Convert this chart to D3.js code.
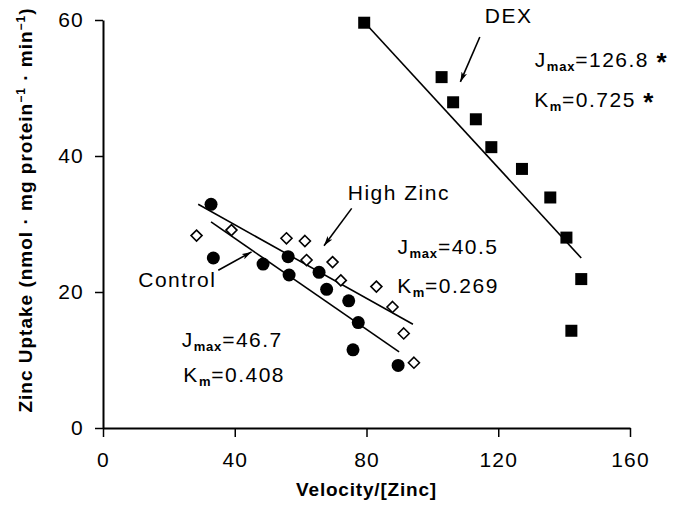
<!DOCTYPE html>
<html>
<head>
<meta charset="utf-8">
<script src="https://cdn.jsdelivr.net/npm/d3@7"></script>
<style>
body { margin: 0; background: #fff; }
text { font-family: "Liberation Sans", Arial, Helvetica, sans-serif; fill: #000; }
</style>
</head>
<body>
<div id="content"></div>
<script>
const width = 687;
const height = 514;

// axes
const xTicks = [0, 40, 80, 120, 160];
const yTicks = [0, 20, 40, 60];
const xTitle = "Velocity/[Zinc]";

// Control (filled circles)
const controlX = [32.8, 33.5, 48.6, 56.2, 56.5, 65.6, 67.9, 74.6, 77.5, 75.9, 89.6];
const controlY = [32.9, 25.0, 24.1, 25.2, 22.5, 22.9, 20.4, 18.7, 15.5, 11.5, 9.2];

// High Zinc (open diamonds)
const zincX = [28.4, 39.0, 55.7, 61.3, 61.8, 69.7, 72.2, 83.0, 87.9, 91.3, 94.4];
const zincY = [28.3, 29.1, 27.9, 27.5, 24.7, 24.4, 21.7, 20.8, 17.8, 13.9, 9.6];

// DEX (filled squares)
const dexX = [79.3, 102.8, 106.3, 113.2, 117.9, 127.2, 135.8, 140.7, 145.2, 142.2];
const dexY = [59.6, 51.6, 47.9, 45.4, 41.3, 38.1, 33.9, 28.0, 21.9, 14.3];

// regression lines, ends in data units
const controlFit = [[32.8, 30.3], [89.9, 11.2]];
const zincFit = [[28.9, 32.9], [94.1, 15.25]];
const dexFit = [[79.5, 59.6], [145.2, 25.0]];

// arrows, tail -> head
const arrows = [
    [[114.4, 57.5], [108.5, 50.9]],
    [[75.5, 32.3], [67.1, 26.8]],
    [[35.0, 23.2], [45.1, 25.9]]
];

// labels: [text, sub, rest, star, x, y]
const labels = [
    ["DEX", "", "", "", 115.9, 59.5],
    ["J", "max", "=126.8 ", "*", 131.1, 53.1],
    ["K", "m", "=0.725 ", "*", 130.9, 47.25],
    ["High Zinc", "", "", "", 74.3, 33.6],
    ["J", "max", "=40.5", "", 89.4, 25.6],
    ["K", "m", "=0.269", "", 89.3, 19.8],
    ["Control", "", "", "", 10.7, 20.8],
    ["J", "max", "=46.7", "", 23.9, 11.9],
    ["K", "m", "=0.408", "", 24.4, 6.8]
];

var svg = d3.select("#content").append("svg")
    .attr("width", width)
    .attr("height", height);

var x = d3.scaleLinear().domain([0, 160]).range([103, 630]);
var y = d3.scaleLinear().domain([0, 60]).range([428, 20]);

// arrow head
svg.append("defs").append("marker")
    .attr("id", "head")
    .attr("viewBox", "0 0 10 6")
    .attr("refX", 10).attr("refY", 3)
    .attr("markerWidth", 10).attr("markerHeight", 6)
    .attr("markerUnits", "userSpaceOnUse")
    .attr("orient", "auto")
    .append("path").attr("d", "M0,0 L10,3 L0,6 L2.5,3 Z").attr("fill", "#000");

// Axes
var xAxis = svg.append("g")
    .attr("transform", `translate(0, ${y(0)})`)
    .call(d3.axisBottom(x).tickValues(xTicks).tickSize(9).tickSizeOuter(0).tickPadding(15));
var yAxis = svg.append("g")
    .attr("transform", `translate(${x(0)}, 0)`)
    .call(d3.axisLeft(y).tickValues(yTicks).tickSize(8).tickSizeOuter(0).tickPadding(11));

[xAxis, yAxis].forEach(a => {
    a.select(".domain").attr("stroke", "#000").attr("stroke-width", 2);
    a.selectAll(".tick line").attr("stroke", "#000").attr("stroke-width", 1.5);
    a.selectAll(".tick text")
        .attr("font-size", 21)
        .attr("letter-spacing", 1.2)
        .style("font-family", '"Liberation Sans", Arial, sans-serif');
});

// axis titles
svg.append("text").text(xTitle)
    .attr("x", (x(0) + x(160)) / 2)
    .attr("y", 496)
    .attr("text-anchor", "middle")
    .attr("font-size", 19)
    .attr("font-weight", "bold")
    .attr("letter-spacing", 0.8);

var yt = svg.append("text")
    .attr("transform", `translate(32, 210) rotate(-90)`)
    .attr("text-anchor", "middle")
    .attr("font-size", 19)
    .attr("font-weight", "bold")
    .attr("letter-spacing", 1.0)
    .style("white-space", "pre");
yt.append("tspan").text("Zinc Uptake (nmol \u00b7 mg protein");
yt.append("tspan").text("\u22121").attr("font-size", 12).attr("dy", -7);
yt.append("tspan").text(" \u00b7 min").attr("dy", 7);
yt.append("tspan").text("\u22121").attr("font-size", 12).attr("dy", -7);
yt.append("tspan").text(")").attr("dy", 7);

// fit lines
var line = d3.line().x(d => x(d[0])).y(d => y(d[1]));
[controlFit, zincFit, dexFit].forEach(f => {
    svg.append("path").attr("d", line(f))
        .attr("fill", "none").attr("stroke", "#000").attr("stroke-width", 1.6);
});

// arrows
arrows.forEach(a => {
    svg.append("line")
        .attr("x1", x(a[0][0])).attr("y1", y(a[0][1]))
        .attr("x2", x(a[1][0])).attr("y2", y(a[1][1]))
        .attr("stroke", "#000").attr("stroke-width", 1.6)
        .attr("marker-end", "url(#head)");
});

// points
controlX.forEach((v, i) => {
    svg.append("circle")
        .attr("cx", x(v)).attr("cy", y(controlY[i]))
        .attr("r", 6.5).attr("fill", "#000");
});

var s = 5.5;
zincX.forEach((v, i) => {
    var cx = x(v), cy = y(zincY[i]);
    svg.append("path")
        .attr("d", `M${cx},${cy - s} L${cx + s},${cy} L${cx},${cy + s} L${cx - s},${cy} Z`)
        .attr("fill", "#fff").attr("stroke", "#000").attr("stroke-width", 1.6);
});

dexX.forEach((v, i) => {
    svg.append("rect")
        .attr("x", x(v) - 6).attr("y", y(dexY[i]) - 6)
        .attr("width", 12).attr("height", 12)
        .attr("fill", "#000");
});

// annotation labels
labels.forEach(l => {
    var t = svg.append("text")
        .attr("x", x(l[4])).attr("y", y(l[5]))
        .attr("font-size", 21)
        .attr("letter-spacing", 1.5)
        .style("white-space", "pre");
    t.append("tspan").text(l[0]);
    if (l[1]) {
        t.append("tspan").text(l[1]).attr("font-size", 13).attr("font-weight", "bold").attr("dy", 4).attr("letter-spacing", 0.8);
        t.append("tspan").text(l[2]).attr("dy", -4);
    }
    if (l[3]) t.append("tspan").text(l[3]).attr("font-size", 26).attr("font-weight", "bold").attr("dy", 4);
});
</script>
</body>
</html>
